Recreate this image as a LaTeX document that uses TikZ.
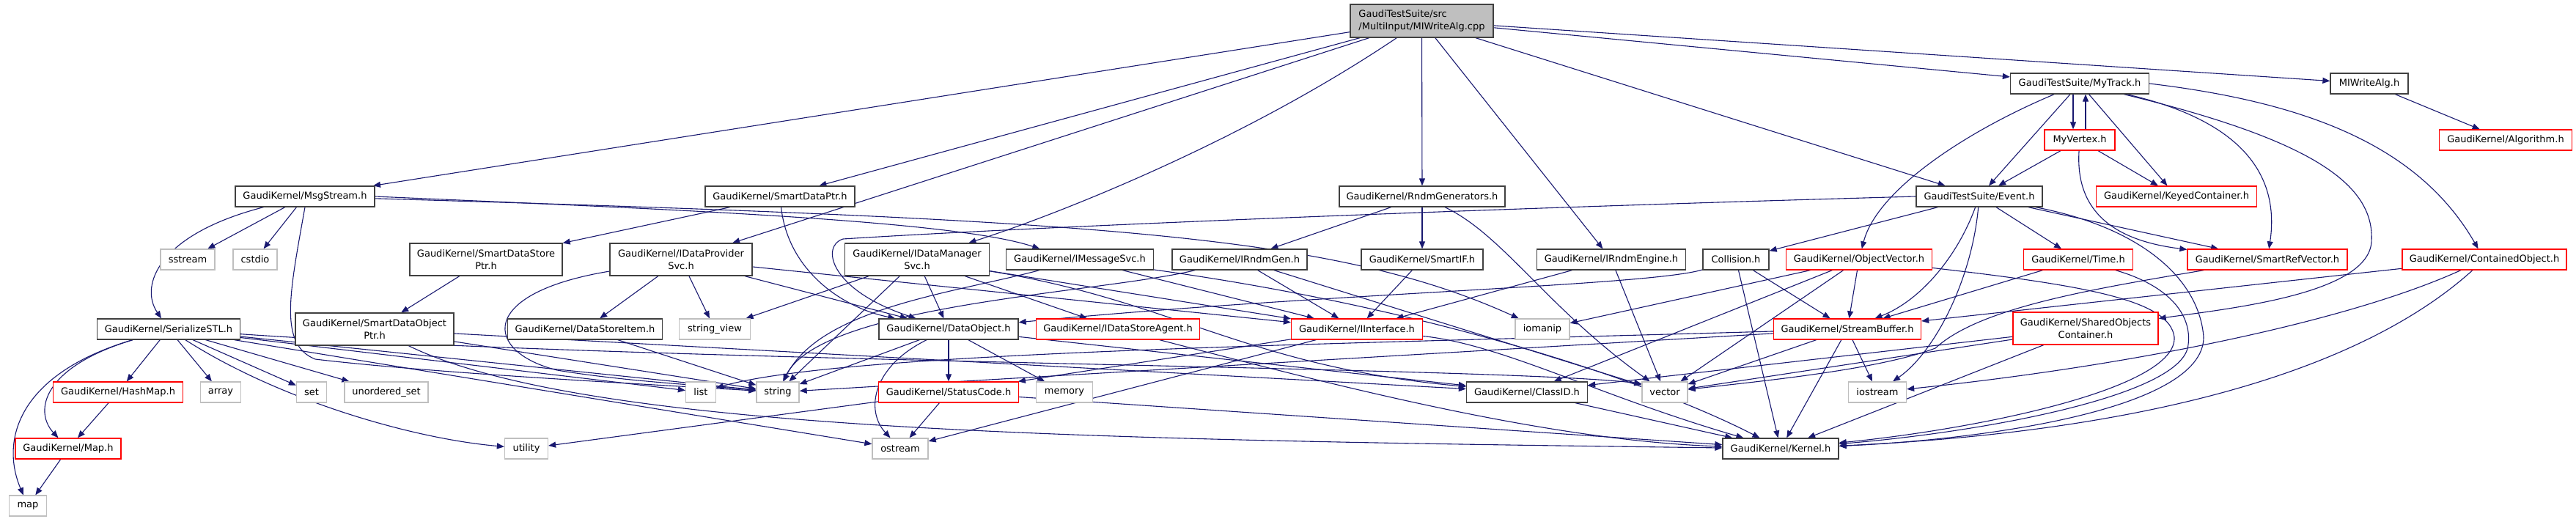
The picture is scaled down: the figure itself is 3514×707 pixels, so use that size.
\documentclass[tikz,border=0pt]{standalone}
\usepackage{fontspec}
\setmainfont{DejaVu Sans}
\usetikzlibrary{arrows.meta}
\definecolor{edgec}{HTML}{191970}
\definecolor{nodeb}{HTML}{404040}
\definecolor{sysb}{HTML}{BFBFBF}
\definecolor{rootf}{HTML}{BFBFBF}
\pgfdeclarelayer{bg}
\pgfsetlayers{bg,main}
\tikzset{
  nbase/.style={rectangle, fill=white, line width=1.3pt, minimum height=28pt, inner sep=0pt, text=black},
  nb/.style={nbase, draw=nodeb},
  nr/.style={nbase, draw=red},
  ng/.style={nbase, draw=sysb},
  two/.style={minimum height=44pt, align=center},
  e/.style={draw=edgec, line width=1.1pt, -{Triangle[length=10pt,width=8pt]}},
}
\begin{document}
\begin{tikzpicture}[x=1pt,y=-1pt,font=\fontsize{13}{17}\selectfont]
\useasboundingbox (0,0) rectangle (3514,707);
% rank 0
\node[nb, fill=rootf, minimum width=195pt, minimum height=45pt, align=left] (root) at (1939.5,28.5) {GaudiTestSuite/src\\/MultiInput/MIWriteAlg.cpp};
% rank 1
\node[nb, minimum width=189pt] (mytrack) at (2837,114) {GaudiTestSuite/MyTrack.h};
\node[nb, minimum width=106pt] (miw) at (3232,114) {MIWriteAlg.h};
\node[nr, minimum width=96pt] (myvertex) at (2837,191) {MyVertex.h};
\node[nr, minimum width=181pt] (algo) at (3418,191) {GaudiKernel/Algorithm.h};
% rank 2
\node[nb, minimum width=190pt] (msg) at (416,268) {GaudiKernel/MsgStream.h};
\node[nb, minimum width=204pt] (sdp) at (1064,268) {GaudiKernel/SmartDataPtr.h};
\node[nb, minimum width=226pt] (rndm) at (1940,268) {GaudiKernel/RndmGenerators.h};
\node[nb, minimum width=172pt] (event) at (2700,268) {GaudiTestSuite/Event.h};
\node[nr, minimum width=219pt] (keyed) at (2969,268) {GaudiKernel/KeyedContainer.h};
% rank 3
\node[ng, minimum width=74pt] (sstream) at (256,354) {sstream};
\node[ng, minimum width=60pt] (cstdio) at (348,354) {cstdio};
\node[nb, two, minimum width=208pt] (sdsp) at (663,354) {GaudiKernel/SmartDataStore\\Ptr.h};
\node[nb, two, minimum width=194pt] (idps) at (929,354) {GaudiKernel/IDataProvider\\Svc.h};
\node[nb, two, minimum width=197pt] (idms) at (1251,354) {GaudiKernel/IDataManager\\Svc.h};
\node[nb, minimum width=201pt] (imsg) at (1473,354) {GaudiKernel/IMessageSvc.h};
\node[nb, minimum width=184pt] (irgen) at (1691,354) {GaudiKernel/IRndmGen.h};
\node[nb, minimum width=166pt] (smartif) at (1940,354) {GaudiKernel/SmartIF.h};
\node[nb, minimum width=203pt] (ireng) at (2198,354) {GaudiKernel/IRndmEngine.h};
\node[nb, minimum width=90pt] (collision) at (2368,354) {Collision.h};
\node[nr, minimum width=199pt] (objvec) at (2536,354) {GaudiKernel/ObjectVector.h};
\node[nr, minimum width=149pt] (time) at (2835,354) {GaudiKernel/Time.h};
\node[nr, minimum width=218pt] (srv) at (3093,354) {GaudiKernel/SmartRefVector.h};
\node[nr, minimum width=224pt] (contobj) at (3389,354) {GaudiKernel/ContainedObject.h};
% rank 4
\node[nb, minimum width=195pt] (sstl) at (230,449) {GaudiKernel/SerializeSTL.h};
\node[nb, two, minimum width=216pt] (sdop) at (511,449) {GaudiKernel/SmartDataObject\\Ptr.h};
\node[nb, minimum width=211pt] (dsi) at (798,449) {GaudiKernel/DataStoreItem.h};
\node[ng, minimum width=97pt] (sview) at (975,449) {string\_view};
\node[nb, minimum width=190pt] (dobj) at (1294,449) {GaudiKernel/DataObject.h};
\node[nr, minimum width=223pt] (idsa) at (1525,449) {GaudiKernel/IDataStoreAgent.h};
\node[nr, minimum width=179pt] (iint) at (1851,449) {GaudiKernel/IInterface.h};
\node[ng, minimum width=74pt] (iomanip) at (2104,449) {iomanip};
\node[nr, minimum width=201pt] (sbuf) at (2520,449) {GaudiKernel/StreamBuffer.h};
\node[nr, two, minimum width=198pt] (soc) at (2845,448) {GaudiKernel/SharedObjects\\Container.h};
% rank 5
\node[nr, minimum width=177pt] (hashmap) at (161,535) {GaudiKernel/HashMap.h};
\node[ng, minimum width=55pt] (array) at (301,535) {array};
\node[ng, minimum width=41pt] (set) at (425,535) {set};
\node[ng, minimum width=114pt] (uset) at (527,535) {unordered\_set};
\node[ng, minimum width=41pt] (list) at (956,535) {list};
\node[ng, minimum width=58pt] (string) at (1061,535) {string};
\node[nr, minimum width=191pt] (statuscode) at (1294,535) {GaudiKernel/StatusCode.h};
\node[ng, minimum width=77pt] (memory) at (1452,535) {memory};
\node[nb, minimum width=165pt] (classid) at (2083,535) {GaudiKernel/ClassID.h};
\node[ng, minimum width=62pt] (vector) at (2271,535) {vector};
\node[ng, minimum width=79pt] (iostream) at (2561,535) {iostream};
% rank 6
\node[nr, minimum width=144pt] (maph) at (93,612) {GaudiKernel/Map.h};
\node[ng, minimum width=59pt] (utility) at (718,612) {utility};
\node[ng, minimum width=76pt] (ostream) at (1228,612) {ostream};
\node[nb, minimum width=158pt] (kernel) at (2429,612) {GaudiKernel/Kernel.h};
% rank 7
\node[ng, minimum width=51pt] (map) at (38,690) {map};

\begin{pgfonlayer}{bg}
% root
\draw[e] (root) -- (msg);
\draw[e] (root) -- (sdp);
\draw[e] (root) -- (idps);
\draw[e] (root) .. controls (1700,190) and (1450,290) .. (idms);
\draw[e] (root) -- (rndm);
\draw[e] (root) -- (ireng);
\draw[e] (root) -- (event);
\draw[e] (root) -- (mytrack);
\draw[e] (root) -- (miw);
% MsgStream
\draw[e] (msg) .. controls (215,320) and (190,390) .. (sstl);
\draw[e] (msg) -- (sstream);
\draw[e] (msg) -- (cstdio);
\draw[e] (msg.south) .. controls (395,400) and (380,470) .. (430,490) .. controls (600,510) and (900,525) .. (string);
\draw[e] (msg.east) .. controls (900,285) and (1300,300) .. (imsg.165);
\draw[e] (msg) .. controls (1500,300) and (1820,320) .. (iomanip);
% SmartDataPtr
\draw[e] (sdp) -- (sdsp);
\draw[e] (sdp) .. controls (1075,370) and (1150,420) .. (dobj);
\draw[e] (sdsp) -- (sdop);
% SmartDataObjectPtr
\draw[e] (sdop) -- (string);
\draw[e] (sdop) -- (classid);
\draw[e] (sdop) .. controls (800,590) and (1500,600) .. (kernel);
% IDataProviderSvc
\draw[e] (idps) -- (dsi);
\draw[e] (idps) -- (sview);
\draw[e] (idps) .. controls (650,400) and (660,480) .. (760,505) .. controls (850,520) and (950,525) .. (string);
\draw[e] (idps) -- (dobj);
\draw[e] (idps) -- (iint);
\draw[e] (dsi) -- (string);
% IDataManagerSvc
\draw[e] (idms) -- (dobj);
\draw[e] (idms) -- (idsa);
\draw[e] (idms) -- (sview);
\draw[e] (idms) -- (string);
\draw[e] (idms) .. controls (1600,410) and (1700,500) .. (classid);
\draw[e] (idms) -- (iint);
% IMessageSvc
\draw[e] (imsg) -- (iint);
\draw[e] (imsg) .. controls (1300,400) and (1120,420) .. (string);
\draw[e] (imsg) .. controls (1950,420) and (2250,520) .. (kernel);
% Rndm
\draw[e] (irgen) -- (iint);
\draw[e] (irgen) -- (vector);
\draw[e] (irgen) .. controls (1500,400) and (1120,415) .. (string);
\draw[e] (smartif) -- (iint);
\draw[e] (ireng) -- (iint);
\draw[e] (ireng) -- (vector);
\draw[e] (rndm) -- (irgen);
\draw[e] (rndm) -- (smartif);
\draw[e] (rndm) .. controls (2050,320) and (2110,420) .. (vector);
% DataObject
\draw[e] (dobj) -- (statuscode);
\draw[e] (dobj) -- (memory);
\draw[e] (dobj) .. controls (1190,500) and (1180,560) .. (ostream);
\draw[e] (dobj) -- (classid);
\draw[e] (dobj) -- (string);
\draw[e] (idsa) .. controls (1800,520) and (2100,600) .. (kernel);
% IInterface
\draw[e] (iint) -- (statuscode);
\draw[e] (iint) -- (ostream);
\draw[e] (iint) .. controls (2050,470) and (2180,540) .. (kernel);
% StatusCode
\draw[e] (statuscode) -- (ostream);
\draw[e] (statuscode) -- (utility);
\draw[e] (statuscode) -- (kernel);
\draw[e] (classid) -- (kernel);
% SerializeSTL
\draw[e] (sstl) .. controls (60,500) and (45,560) .. (maph);
\draw[e] (sstl) .. controls (25,510) and (0,600) .. (map);
\draw[e] (sstl) -- (hashmap);
\draw[e] (sstl) -- (array);
\draw[e] (sstl) -- (set);
\draw[e] (sstl) -- (uset);
\draw[e] (sstl) .. controls (380,545) and (560,598) .. (utility);
\draw[e] (sstl) -- (list);
\draw[e] (sstl) -- (string);
\draw[e] (sstl) -- (ostream);
\draw[e] (sstl) .. controls (900,495) and (2050,500) .. (vector.160);
\draw[e] (hashmap) -- (maph);
\draw[e] (maph) -- (map);
% Event
\draw[e] (event.west) .. controls (2000,285) and (1400,310) .. (1150,326) .. controls (1120,335) and (1130,395) .. (dobj);
\draw[e] (event) -- (collision);
\draw[e] (event) -- (time);
\draw[e] (event) -- (srv);
\draw[e] (event) .. controls (2670,350) and (2620,410) .. (sbuf);
\draw[e] (event) .. controls (2690,380) and (2640,480) .. (iostream);
\draw[e] (event) .. controls (2920,310) and (3000,380) .. (3006,460) .. controls (3006,560) and (2700,600) .. (kernel);
% Collision
\draw[e] (collision) -- (sbuf);
\draw[e] (collision) -- (kernel);
\draw[e] (collision) .. controls (2250,390) and (1800,400) .. (dobj);
% ObjectVector
\draw[e] (objvec) -- (sbuf);
\draw[e] (objvec) -- (vector);
\draw[e] (objvec) -- (classid);
\draw[e] (objvec) -- (iomanip);
\draw[e] (objvec) .. controls (2850,390) and (2960,410) .. (2966,460) .. controls (2970,530) and (2700,585) .. (kernel);
% Time
\draw[e] (time) -- (sbuf);
\draw[e] (time) .. controls (2960,390) and (2990,430) .. (2985,470) .. controls (2980,540) and (2700,590) .. (kernel);
% SmartRefVector
\draw[e] (srv) .. controls (2850,395) and (2700,420) .. (2640,475) .. controls (2560,505) and (2400,520) .. (vector);
% ContainedObject
\draw[e] (contobj) -- (sbuf);
\draw[e] (contobj) .. controls (3200,440) and (2900,500) .. (iostream);
\draw[e] (contobj) .. controls (3250,480) and (3000,585) .. (kernel);
% SharedObjectsContainer
\draw[e] (soc) -- (vector);
\draw[e] (soc) -- (classid);
\draw[e] (soc) -- (kernel);
% StreamBuffer
\draw[e] (sbuf) .. controls (1800,470) and (1150,480) .. (list);
\draw[e] (sbuf) -- (string);
\draw[e] (sbuf) -- (vector);
\draw[e] (sbuf) -- (iostream);
\draw[e] (sbuf) -- (kernel);
% MyTrack
\draw[e] (mytrack) -- (event);
\draw[e] ([xshift=-9pt]mytrack.south) -- ([xshift=-9pt]myvertex.north);
\draw[e] (mytrack) -- (keyed);
\draw[e] (mytrack) .. controls (3060,165) and (3110,240) .. (srv);
\draw[e] (mytrack) .. controls (2680,180) and (2560,260) .. (objvec);
\draw[e] (mytrack.east) .. controls (3150,140) and (3300,200) .. (contobj);
\draw[e] (mytrack) .. controls (3150,190) and (3240,250) .. (3235,330) .. controls (3230,400) and (3050,420) .. (soc);
% MyVertex
\draw[e] ([xshift=8pt]myvertex.north) -- ([xshift=8pt]mytrack.south);
\draw[e] (myvertex) -- (event);
\draw[e] (myvertex) -- (keyed);
\draw[e] (myvertex) .. controls (2830,300) and (2900,330) .. (srv);
% MIWriteAlg.h
\draw[e] (miw) -- (algo);
\end{pgfonlayer}
\end{tikzpicture}
\end{document}
